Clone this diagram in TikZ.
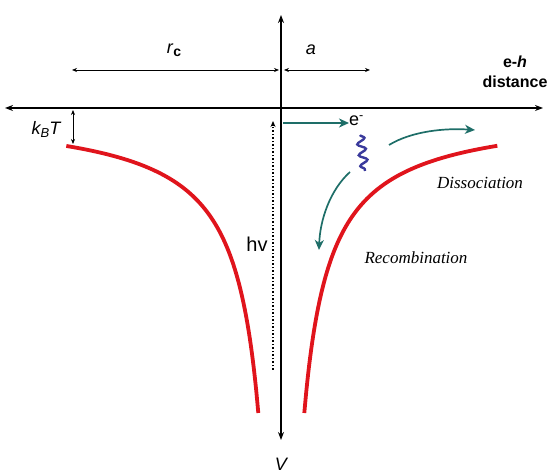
\documentclass[tikz,border=0pt]{standalone}
\usepackage{fontspec}
\setmainfont{Liberation Sans}
\newfontfamily\serifit{Liberation Serif}
\usetikzlibrary{arrows.meta,decorations.pathmorphing}
\definecolor{curvered}{HTML}{E0141C}
\definecolor{tealc}{HTML}{1E6E68}
\definecolor{wavec}{HTML}{3A3A9C}
\tikzset{
  axis/.style={line width=1.5pt,-{Stealth[length=8pt,width=6pt]}},
  dim/.style={line width=0.7pt,{Stealth[length=5pt,width=4pt]}-{Stealth[length=5pt,width=4pt]}},
  well/.style={curvered,line width=3.8pt},
  proc/.style={tealc,line width=1.7pt,-{Stealth[length=10pt,width=9pt,inset=3pt]}},
  lbl/.style={inner sep=0pt},
  itl/.style={inner sep=0pt,font=\serifit\itshape\fontsize{17}{19}\selectfont}
}
\begin{document}
\begin{tikzpicture}[x=1pt,y=-1pt]
\useasboundingbox (0,0) rectangle (550,473);
% axes
\coordinate (O) at (281,108);
\coordinate (xl) at (5,108);
\coordinate (xr) at (543,108);
\coordinate (yt) at (281,15);
\coordinate (yb) at (281,440);
\draw[axis] (O) -- (xr);
\draw[axis] (O) -- (xl);
\draw[axis] (O) -- (yt);
\draw[axis] (O) -- (yb);
% dimension arrows
\coordinate (rcl) at (72,70);
\coordinate (rcr) at (279,70);
\coordinate (al) at (284,70);
\coordinate (ar) at (370,70);
\draw[dim] (rcl) -- (rcr);
\draw[dim] (al) -- (ar);
\node[lbl,font=\fontsize{18}{20}\selectfont] (rc) at (174,50) {\textit{r}\raisebox{-3pt}{\fontsize{14}{16}\selectfont\bfseries c}};
\node[lbl,font=\fontsize{18}{20}\selectfont] (alab) at (311,50) {\textit{a}};
\node[lbl,font=\bfseries\fontsize{16}{20}\selectfont,align=center] (eh) at (515,72) {e-\textit{h}\\distance};
% kBT
\coordinate (kt) at (73,110);
\coordinate (kb) at (73,144);
\draw[dim] (kt) -- (kb);
\node[lbl,font=\itshape\fontsize{18}{20}\selectfont] (kbt) at (46,129) {k\raisebox{-3pt}{\fontsize{13}{15}\selectfont B}T};
% potential well
\draw[well] plot[domain=218:26,samples=90,smooth] ({284.3-\x},{109.8+7883/\x});
\draw[well] plot[domain=26:219,samples=90,smooth] ({278.3+\x},{109.8+7883/\x});
% photon absorption (dotted)
\coordinate (hb) at (273,370);
\coordinate (ht) at (273,121);
\draw[line width=1.5pt,dotted,-{Stealth[length=6pt,width=5pt]}] (hb) -- (ht);
\node[lbl,font=\fontsize{20}{22}\selectfont] (hv) at (257,244) {hv};
% electron
\coordinate (es) at (283,123);
\node[lbl,font=\fontsize{18}{20}\selectfont,anchor=west] (em) at (349,121) {e\textsuperscript{-}};
\draw[proc] (es) -- (es -| em.west);
% wave
\coordinate (wt) at (360,135);
\coordinate (wb) at (365,171);
\draw[wavec,line width=2.4pt,decorate,decoration={snake,amplitude=4pt,segment length=11pt}] (wt) -- (wb);
% dissociation / recombination
\coordinate (ds) at (389,145);
\coordinate (de) at (475,130);
\draw[proc] (ds) .. controls (412,131) and (445,128) .. (de);
\node[itl] (diss) at (480,183) {Dissociation};
\coordinate (rs) at (350,172);
\coordinate (re) at (319,250);
\draw[proc] (rs) .. controls (330,190) and (320,220) .. (re);
\node[itl] (rec) at (416,258) {Recombination};
\node[lbl,font=\itshape\fontsize{18}{20}\selectfont] (V) at (281,464) {V};
\end{tikzpicture}
\end{document}
